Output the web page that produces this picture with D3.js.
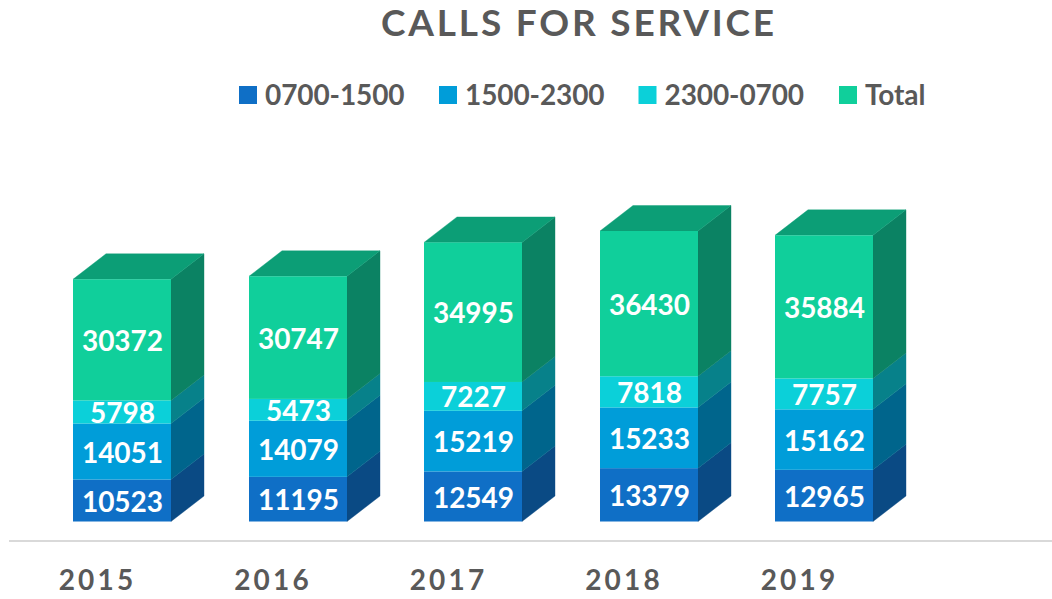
<!DOCTYPE html>
<html><head><meta charset="utf-8">
<script src="https://cdn.jsdelivr.net/npm/d3@7"></script>
<style>html,body{margin:0;padding:0;background:#fff;overflow:hidden}svg{display:block}text{font-family:Lato,Carlito,sans-serif;font-weight:700}</style>
</head><body><div id="c"></div>
<script>
const years=["2015","2016","2017","2018","2019"];
const seriesNames=["0700-1500","1500-2300","2300-0700","Total"];
const v0700=[10523,11195,12549,13379,12965];
const v1500=[14051,14079,15219,15233,15162];
const v2300=[5798,5473,7227,7818,7757];
const vTotal=[30372,30747,34995,36430,35884];
const frontColors=["#0f6fc6","#009dd9","#0bd0d9","#10cf9b"];
const sideColors=["#0a4a84","#00658c","#07818a","#0b8263"];
const topColor="#0c9e76";
const W=1052,H=599,dx=33,dy=25.5,barW=98;
const seriesValues=[v0700,v1500,v2300,vTotal];
const svg=d3.select("#c").append("svg").attr("width",W).attr("height",H);
const x=d3.scaleBand().domain(years).range([9,886.5]);
const y=d3.scaleLinear().domain([0,72860]).range([521.5,231]);
const stacks=years.map((yr,i)=>{let c=0;return seriesValues.map((s,k)=>{const o={yr,k,v:s[i],y0:c,y1:c+s[i]};c+=s[i];return o;});});
const barX=yr=>Math.round(x(yr)+64);
const poly=pts=>pts.map(p=>p.join(",")).join(" ");
// axis
svg.append("line").attr("x1",9).attr("x2",W).attr("y1",541).attr("y2",541).attr("stroke","#d9d9d9").attr("stroke-width",2);
const ax=svg.append("g").attr("transform","translate(0.8,541)").call(d3.axisBottom(x).tickSize(0).tickPadding(29.5));
ax.select(".domain").remove();
ax.selectAll("text").attr("fill","#595959").style("font-family","Lato,sans-serif").style("font-weight",700).style("font-size","28px").style("letter-spacing","3.2px");
// bars
const g=svg.selectAll("g.bar").data(stacks).join("g").attr("class","bar");
g.selectAll("polygon.side").data(d=>d).join("polygon").attr("class","side")
 .attr("fill",d=>sideColors[d.k]).attr("stroke",d=>sideColors[d.k]).attr("stroke-width",0.4)
 .attr("points",d=>{const r=barX(d.yr)+barW;return poly([[r,y(d.y0)],[r+dx,y(d.y0)-dy],[r+dx,y(d.y1)-dy],[r,y(d.y1)]]);});
g.append("polygon").attr("fill",topColor).attr("stroke",topColor).attr("stroke-width",0.4).attr("points",d=>{const t=d[d.length-1],l=barX(t.yr),yy=y(t.y1);return poly([[l,yy],[l+dx,yy-dy],[l+barW+dx,yy-dy],[l+barW,yy]]);});
g.selectAll("rect").data(d=>d).join("rect")
 .attr("x",d=>barX(d.yr)).attr("width",barW).attr("y",d=>y(d.y1)).attr("height",d=>y(d.y0)-y(d.y1)).attr("fill",d=>frontColors[d.k]);
g.selectAll("text").data(d=>d).join("text")
 .attr("x",d=>barX(d.yr)+barW/2+0.5).attr("y",d=>(y(d.y0)+y(d.y1))/2+1).attr("dy","0.36em").attr("text-anchor","middle")
 .attr("fill","#fff").style("font-size","28px").text(d=>d.v);
// title
svg.append("text").attr("x",579).attr("y",36).attr("text-anchor","middle").attr("fill","#595959").style("font-size","37px").style("letter-spacing","2.8px").text("CALLS FOR SERVICE");
// legend
const legX=[239,439,638.5,839];
const lg=svg.selectAll("g.leg").data(seriesNames).join("g").attr("class","leg").attr("transform",(d,i)=>`translate(${legX[i]},86)`);
lg.append("rect").attr("width",18).attr("height",18).attr("fill",(d,i)=>frontColors[i]);
lg.append("text").attr("x",26).attr("y",18.5).attr("fill","#595959").style("font-size","28px").style("letter-spacing","-0.1px").text(d=>d);
</script></body></html>
